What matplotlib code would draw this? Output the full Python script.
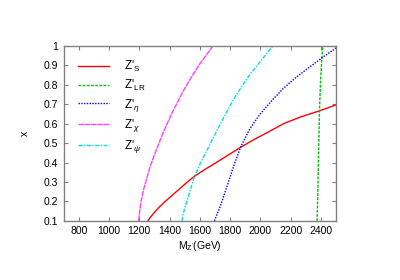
import matplotlib
matplotlib.use("Agg")
import matplotlib.pyplot as plt

plt.rcParams['font.family'] = ['Liberation Sans', 'DejaVu Sans']
plt.rcParams['mathtext.fontset'] = 'custom'
plt.rcParams['mathtext.rm'] = 'Liberation Sans'
plt.rcParams['mathtext.it'] = 'Liberation Sans:italic'

# Z'_S (red)
s_m = [1256, 1280, 1305, 1335, 1371, 1415, 1459, 1510, 1565, 1630, 1702, 1790,
       1875, 1950, 2050, 2153, 2270, 2391, 2500]
s_x = [0.1, 0.125, 0.148, 0.173, 0.2, 0.23, 0.26, 0.295, 0.33, 0.363, 0.397, 0.44,
       0.481, 0.515, 0.556, 0.6, 0.636, 0.666, 0.697]
# Z'_LR (green)
lr_m = [2375, 2380, 2385, 2391, 2398, 2405, 2413]
lr_x = [0.1, 0.25, 0.45, 0.67, 0.82, 0.92, 1.0]
# Z'_eta (blue)
eta_m = [1697, 1701, 1735, 1779, 1823, 1871, 1933, 1999, 2077, 2153, 2242, 2330,
         2418, 2484, 2500]
eta_x = [0.1, 0.11, 0.174, 0.276, 0.38, 0.482, 0.577, 0.65, 0.72, 0.782, 0.842,
         0.894, 0.945, 0.98, 0.99]
# Z'_chi (magenta)
chi_m = [1195, 1203, 1212, 1228, 1250, 1272, 1305, 1338, 1375, 1426, 1492, 1545,
         1602, 1645, 1686]
chi_x = [0.1, 0.15, 0.2, 0.26, 0.32, 0.38, 0.45, 0.515, 0.585, 0.67, 0.77, 0.84,
         0.91, 0.955, 1.0]
# Z'_psi (cyan)
psi_m = [1481, 1495, 1514, 1538, 1565, 1612, 1691, 1760, 1823, 1880, 1933, 2010,
         2083]
psi_x = [0.1, 0.15, 0.2, 0.26, 0.33, 0.41, 0.53, 0.635, 0.725, 0.795, 0.855, 0.93,
         1.0]

labels = ["Z'$_\\mathrm{S}$", "Z'$_\\mathrm{LR}$", "Z'$_\\eta$", "Z'$_\\chi$", "Z'$_\\psi$"]

xticks = [800, 1000, 1200, 1400, 1600, 1800, 2000, 2200, 2400]
yticks = [0.1, 0.2, 0.3, 0.4, 0.5, 0.6, 0.7, 0.8, 0.9, 1.0]
yticklabels = ['0.1', '0.2', '0.3', '0.4', '0.5', '0.6', '0.7', '0.8', '0.9', '1']

fig = plt.figure(figsize=(4, 2.8), dpi=100)
ax = fig.add_axes([0.159, 0.211, 0.681, 0.625])

ax.plot(s_m, s_x, color='#ff0000', lw=1.0, ls='-', label=labels[0])
ax.plot(lr_m, lr_x, color='#00c000', lw=1.0, ls=(0, (2, 1)), label=labels[1])
ax.plot(eta_m, eta_x, color='#0000ff', lw=1.0, ls=(0, (1, 1)), label=labels[2])
ax.plot(chi_m, chi_x, color='#ff40ff', lw=1.0, ls=(0, (4, 0.5)), label=labels[3])
ax.plot(psi_m, psi_x, color='#00e0e0', lw=1.0, ls=(0, (3, 1, 1, 1)), label=labels[4])

ax.set_xlim(700, 2500)
ax.set_ylim(0.1, 1.0)
ax.set_xticks(xticks)
ax.set_yticks(yticks)
ax.set_yticklabels(yticklabels)
ax.tick_params(direction='in', length=3, width=0.8, color='#808080',
               labelsize=7.5, top=True, right=True, pad=4)
for sp in ax.spines.values():
    sp.set_color('#808080')
    sp.set_linewidth(1.0)

ax.set_xlabel("M$_{\\mathrm{Z'}}$(GeV)", fontsize=7.5, labelpad=2)
ax.set_ylabel("x", fontsize=7.5, labelpad=10)

leg = ax.legend(loc='upper left', bbox_to_anchor=(0.037, 0.95), frameon=False,
                fontsize=8.5, handlelength=2.6, handletextpad=1.25,
                labelspacing=0.3, borderaxespad=0.0, borderpad=0.4)

fig.savefig('out.png', dpi=100)
